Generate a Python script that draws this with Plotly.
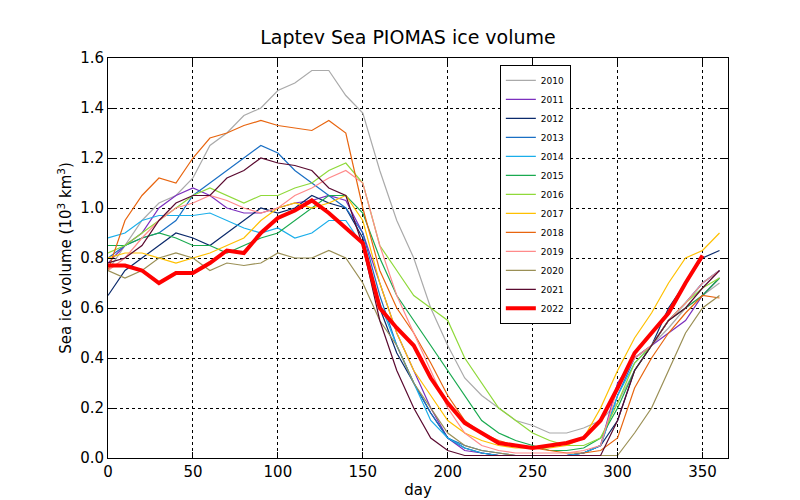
import plotly.graph_objects as go

days = list(range(0, 361, 10))

# values read every 10 days, days 0..360 (10^3 km^3)
v2010 = [0.75, 0.85, 0.95, 1.02, 1.05, 1.12, 1.25, 1.30, 1.37, 1.40, 1.47, 1.50, 1.55, 1.55, 1.45, 1.38, 1.15, 0.95, 0.80, 0.60, 0.45, 0.32, 0.25, 0.20, 0.15, 0.13, 0.10, 0.10, 0.12, 0.15, 0.22, 0.35, 0.45, 0.52, 0.60, 0.65, 0.70]
v2011 = [0.78, 0.85, 0.90, 1.00, 1.05, 1.08, 1.05, 1.00, 0.98, 0.98, 1.00, 1.02, 1.03, 1.05, 1.03, 0.90, 0.70, 0.50, 0.35, 0.20, 0.08, 0.03, 0.02, 0.01, 0.01, 0.01, 0.01, 0.01, 0.02, 0.05, 0.30, 0.40, 0.45, 0.50, 0.55, 0.65, 0.72]
v2012 = [0.65, 0.75, 0.80, 0.85, 0.90, 0.88, 0.85, 0.90, 0.95, 1.00, 0.98, 1.00, 1.05, 1.02, 1.00, 0.88, 0.60, 0.42, 0.30, 0.18, 0.08, 0.04, 0.02, 0.01, 0.01, 0.01, 0.01, 0.01, 0.02, 0.05, 0.15, 0.35, 0.45, 0.60, 0.70, 0.80, 0.83]
v2013 = [0.80, 0.85, 0.88, 0.90, 0.95, 1.05, 1.10, 1.15, 1.20, 1.25, 1.22, 1.15, 1.10, 1.05, 1.00, 0.90, 0.65, 0.45, 0.30, 0.18, 0.08, 0.05, 0.03, 0.02, 0.01, 0.01, 0.01, 0.01, 0.02, 0.05, 0.25, 0.40, 0.45, 0.55, 0.62, 0.70, 0.75]
v2014 = [0.88, 0.90, 0.95, 0.97, 0.97, 0.97, 0.98, 0.95, 0.92, 0.90, 0.92, 0.88, 0.90, 0.95, 0.95, 0.85, 0.62, 0.45, 0.30, 0.15, 0.08, 0.04, 0.02, 0.01, 0.01, 0.01, 0.01, 0.01, 0.02, 0.05, 0.25, 0.38, 0.45, 0.55, 0.62, 0.70, 0.75]
v2015 = [0.85, 0.85, 0.88, 0.90, 0.88, 0.85, 0.85, 0.82, 0.85, 0.88, 0.90, 0.95, 1.00, 1.05, 1.05, 0.98, 0.80, 0.65, 0.55, 0.45, 0.35, 0.25, 0.15, 0.10, 0.07, 0.05, 0.03, 0.03, 0.04, 0.08, 0.20, 0.35, 0.45, 0.55, 0.60, 0.65, 0.72]
v2016 = [0.82, 0.85, 0.90, 0.95, 1.00, 1.05, 1.08, 1.05, 1.02, 1.05, 1.05, 1.08, 1.10, 1.15, 1.18, 1.10, 0.85, 0.75, 0.65, 0.60, 0.55, 0.40, 0.30, 0.20, 0.15, 0.10, 0.07, 0.05, 0.05, 0.08, 0.22, 0.38, 0.45, 0.55, 0.62, 0.68, 0.72]
v2017 = [0.80, 0.82, 0.82, 0.80, 0.78, 0.80, 0.82, 0.85, 0.88, 0.95, 1.00, 1.02, 1.00, 1.02, 1.05, 0.95, 0.70, 0.50, 0.35, 0.25, 0.15, 0.10, 0.07, 0.05, 0.04, 0.04, 0.04, 0.05, 0.08, 0.20, 0.35, 0.48, 0.58, 0.70, 0.80, 0.83, 0.90]
v2018 = [0.75, 0.95, 1.05, 1.12, 1.10, 1.20, 1.28, 1.30, 1.33, 1.35, 1.33, 1.32, 1.31, 1.35, 1.30, 1.00, 0.75, 0.60, 0.50, 0.38, 0.25, 0.15, 0.10, 0.07, 0.05, 0.04, 0.03, 0.02, 0.02, 0.03, 0.08, 0.28, 0.40, 0.50, 0.58, 0.65, 0.64]
v2019 = [0.75, 0.80, 0.88, 0.95, 1.00, 1.02, 1.05, 1.03, 1.00, 0.98, 1.00, 1.05, 1.08, 1.12, 1.15, 1.10, 0.85, 0.65, 0.50, 0.35, 0.20, 0.10, 0.05, 0.03, 0.02, 0.02, 0.02, 0.02, 0.03, 0.05, 0.28, 0.40, 0.45, 0.55, 0.62, 0.70, 0.75]
v2020 = [0.75, 0.72, 0.75, 0.80, 0.82, 0.80, 0.75, 0.78, 0.77, 0.78, 0.82, 0.80, 0.80, 0.83, 0.80, 0.70, 0.55, 0.45, 0.30, 0.20, 0.10, 0.05, 0.03, 0.02, 0.01, 0.01, 0.01, 0.01, 0.01, 0.01, 0.01, 0.10, 0.20, 0.35, 0.50, 0.60, 0.65]
v2021 = [0.78, 0.80, 0.85, 0.95, 1.02, 1.05, 1.05, 1.12, 1.15, 1.20, 1.18, 1.17, 1.15, 1.08, 1.05, 0.85, 0.55, 0.35, 0.20, 0.08, 0.03, 0.01, 0.01, 0.01, 0.01, 0.01, 0.01, 0.01, 0.01, 0.01, 0.15, 0.35, 0.45, 0.55, 0.60, 0.68, 0.75]
days2022 = list(range(0, 351, 10))
v2022 = [0.77, 0.77, 0.75, 0.70, 0.74, 0.74, 0.78, 0.83, 0.82, 0.90, 0.96, 0.99, 1.03, 0.98, 0.92, 0.86, 0.60, 0.52, 0.45, 0.32, 0.22, 0.14, 0.10, 0.06, 0.05, 0.04, 0.05, 0.06, 0.08, 0.15, 0.28, 0.42, 0.50, 0.58, 0.70, 0.81]

series = [
    ("2010", v2010, "#aaaaaa"), ("2011", v2011, "#7b2fbe"), ("2012", v2012, "#0b2a6b"),
    ("2013", v2013, "#1a6fc4"), ("2014", v2014, "#1aaeea"), ("2015", v2015, "#1aaa50"),
    ("2016", v2016, "#8fd93a"), ("2017", v2017, "#ffc000"), ("2018", v2018, "#e8650f"),
    ("2019", v2019, "#ff8a8a"), ("2020", v2020, "#9a8f55"), ("2021", v2021, "#5a0a30"),
]

fig = go.Figure()
for name, vals, col in series:
    fig.add_trace(go.Scatter(x=days, y=vals, name=name, mode="lines",
                             line=dict(color=col, width=1.2)))
fig.add_trace(go.Scatter(x=days2022, y=v2022, name="2022", mode="lines",
                         line=dict(color="#ff0000", width=4)))

axis = dict(showline=True, mirror="ticks", linecolor="black", linewidth=1,
            ticks="inside", ticklen=6, tickcolor="black", automargin=False,
            showgrid=True, gridcolor="black", griddash="dot", gridwidth=0.6,
            zeroline=False, tickfont=dict(size=15))
fig.update_layout(
    width=800, height=500, plot_bgcolor="white", paper_bgcolor="white",
    font=dict(family="DejaVu Sans", color="black"),
    margin=dict(l=100, r=80, t=50, b=50),
    title=dict(text="Laptev Sea PIOMAS ice volume", x=0.5, xanchor="center",
               y=0.955, font=dict(size=19)),
    xaxis=dict(axis, range=[0, 365], dtick=50,
               title=dict(text="day", font=dict(size=15), standoff=4)),
    yaxis=dict(axis, range=[0, 1.6], dtick=0.2, tickformat=".1f",
               title=dict(text="Sea ice volume (10<sup>3</sup> km<sup>3</sup>)",
                          font=dict(size=15), standoff=4)),
    legend=dict(x=0.632, y=0.983, xanchor="left", yanchor="top",
                bordercolor="black", borderwidth=1, font=dict(size=9),
                tracegroupgap=0, itemwidth=30, bgcolor="white"),
)
fig.write_html("out.html")
